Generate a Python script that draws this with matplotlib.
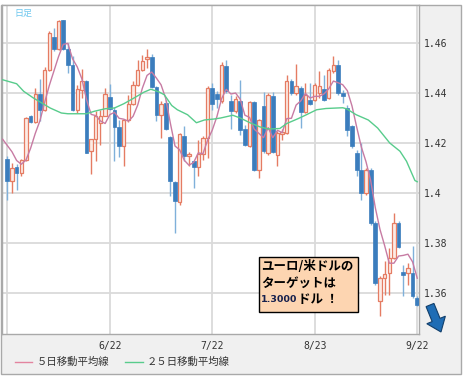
import numpy as np
import pandas as pd
import matplotlib
matplotlib.use('Agg')
import matplotlib.pyplot as plt
from matplotlib.patches import Rectangle, FancyArrow

# EUR/USD daily candles, 5/23 .. 9/22 (one entry per weekday)
opens = [1.4137, 1.4049, 1.4103, 1.4080, 1.4133, 1.4307, 1.4284, 1.4396, 1.4333, 1.4493,
         1.4624, 1.4576, 1.4691, 1.4576, 1.4513, 1.4333, 1.4413, 1.4447, 1.4167, 1.4216,
         1.4280, 1.4309, 1.4383, 1.4333, 1.4264, 1.4189, 1.4291, 1.4357, 1.4433, 1.4491,
         1.4536, 1.4544, 1.4424, 1.4313, 1.4360, 1.4224, 1.4043, 1.3963, 1.4229, 1.4147,
         1.4127, 1.4104, 1.4157, 1.4220, 1.4420, 1.4397, 1.4367, 1.4509, 1.4367, 1.4327,
         1.4367, 1.4256, 1.4187, 1.4363, 1.4091, 1.4349, 1.4160, 1.4389, 1.4153, 1.4236,
         1.4240, 1.4447, 1.4400, 1.4420, 1.4323, 1.4373, 1.4373, 1.4400, 1.4416, 1.4380,
         1.4487, 1.4513, 1.4400, 1.4340, 1.4267, 1.4160, 1.4093, 1.4000, 1.4093, 1.3880,
         1.3567, 1.3660, 1.3680, 1.3740, 1.3880, 1.3684, 1.3680, 1.3680, 1.3580]
highs = [1.4147, 1.4120, 1.4116, 1.4136, 1.4304, 1.4313, 1.4420, 1.4456, 1.4504, 1.4647,
         1.4660, 1.4693, 1.4693, 1.4600, 1.4547, 1.4433, 1.4496, 1.4453, 1.4216, 1.4327,
         1.4333, 1.4420, 1.4437, 1.4344, 1.4293, 1.4293, 1.4393, 1.4447, 1.4531, 1.4553,
         1.4576, 1.4557, 1.4427, 1.4367, 1.4371, 1.4227, 1.4047, 1.4240, 1.4269, 1.4163,
         1.4130, 1.4213, 1.4227, 1.4427, 1.4440, 1.4407, 1.4523, 1.4531, 1.4393, 1.4390,
         1.4451, 1.4273, 1.4367, 1.4367, 1.4296, 1.4403, 1.4400, 1.4403, 1.4247, 1.4256,
         1.4473, 1.4456, 1.4517, 1.4427, 1.4440, 1.4440, 1.4440, 1.4487, 1.4473, 1.4500,
         1.4547, 1.4533, 1.4413, 1.4353, 1.4273, 1.4173, 1.4200, 1.4100, 1.4100, 1.3887,
         1.3667, 1.3727, 1.3780, 1.3920, 1.3887, 1.3713, 1.3720, 1.3787, 1.3587]
lows = [1.3971, 1.4000, 1.4013, 1.4067, 1.4127, 1.4280, 1.4280, 1.4287, 1.4327, 1.4487,
        1.4567, 1.4571, 1.4573, 1.4480, 1.4327, 1.4320, 1.4380, 1.4160, 1.4076, 1.4127,
        1.4193, 1.4307, 1.4333, 1.4127, 1.4143, 1.4107, 1.4283, 1.4353, 1.4427, 1.4487,
        1.4500, 1.4420, 1.4287, 1.4220, 1.4253, 1.3987, 1.3840, 1.3953, 1.4127, 1.4107,
        1.4020, 1.4069, 1.4133, 1.4140, 1.4333, 1.4340, 1.4360, 1.4400, 1.4256, 1.4320,
        1.4233, 1.4187, 1.4184, 1.4090, 1.4060, 1.4160, 1.4153, 1.4160, 1.4107, 1.4213,
        1.4236, 1.4393, 1.4393, 1.4260, 1.4321, 1.4353, 1.4370, 1.4380, 1.4367, 1.4376,
        1.4480, 1.4393, 1.4360, 1.4227, 1.4180, 1.4067, 1.3973, 1.3993, 1.3873, 1.3633,
        1.3507, 1.3593, 1.3593, 1.3737, 1.3780, 1.3587, 1.3633, 1.3580, 1.3547]
closes = [1.4047, 1.4100, 1.4080, 1.4131, 1.4300, 1.4284, 1.4396, 1.4333, 1.4493, 1.4640,
          1.4576, 1.4687, 1.4576, 1.4513, 1.4333, 1.4416, 1.4447, 1.4160, 1.4216, 1.4309,
          1.4309, 1.4396, 1.4336, 1.4264, 1.4189, 1.4291, 1.4357, 1.4433, 1.4491, 1.4527,
          1.4544, 1.4424, 1.4313, 1.4357, 1.4256, 1.4047, 1.3967, 1.4237, 1.4147, 1.4157,
          1.4104, 1.4157, 1.4220, 1.4420, 1.4357, 1.4376, 1.4513, 1.4407, 1.4327, 1.4376,
          1.4253, 1.4193, 1.4363, 1.4093, 1.4291, 1.4167, 1.4393, 1.4163, 1.4240, 1.4245,
          1.4447, 1.4400, 1.4427, 1.4323, 1.4393, 1.4357, 1.4433, 1.4427, 1.4373, 1.4493,
          1.4513, 1.4400, 1.4387, 1.4253, 1.4187, 1.4093, 1.4000, 1.4093, 1.3880, 1.3640,
          1.3660, 1.3676, 1.3740, 1.3880, 1.3783, 1.3673, 1.3700, 1.3587, 1.3553]

# 5-day MA before enough candles are on the chart (days -1..3)
ma5_head = [1.4215, 1.4190, 1.4165, 1.4130, 1.4115]

# 25-day MA (day position, value)
ma25_x = [-1.2, 2, 3.5, 5.6, 7.4, 9.2, 11.6, 13, 17, 18.7, 21, 23, 25, 27.2, 29.3, 30.8,
          32.5, 33.7, 35.3, 36.5, 38.7, 40.6, 42.3, 44.4, 45.8, 48.4, 50, 52.2, 54.3,
          56.1, 58.5, 60, 62.5, 64.2, 66.4, 68.4, 72, 72.8, 74.9, 77.5, 79.5, 82.1, 84.3,
          85.7, 87.5, 88]
ma25 = [1.4454, 1.4437, 1.4407, 1.4380, 1.4360, 1.4340, 1.4320, 1.4317, 1.4317, 1.4327,
        1.4337, 1.4340, 1.4357, 1.4380, 1.4403, 1.4415, 1.4405, 1.4393, 1.4350, 1.4333,
        1.4313, 1.4281, 1.4292, 1.4296, 1.4300, 1.4311, 1.4300, 1.4280, 1.4264, 1.4256,
        1.4258, 1.4278, 1.4298, 1.4313, 1.4333, 1.4338, 1.4341, 1.4337, 1.4313, 1.4292,
        1.4260, 1.4200, 1.4167, 1.4127, 1.4050, 1.4045]

month_pos = [0, 22, 44, 66, 88]
month_labels = ['', '6/22', '7/22', '8/23', '9/22']
price_ticks = [1.36, 1.38, 1.40, 1.42, 1.44, 1.46]
price_labels = ['1.36', '1.38', '1.4', '1.42', '1.44', '1.46']

UP_EDGE = '#e57c63'
UP_FACE = '#fdebe5'
DOWN_BODY = '#3b7dbd'
DOWN_WICK = '#7fb0da'
MA5_COLOR = '#c77ba3'
MA25_COLOR = '#58cc8c'
JP = ['Noto Sans CJK JP', 'DejaVu Sans']
MONO = 'DejaVu Sans Mono'

W, H = 464, 377
fig = plt.figure(figsize=(W / 100, H / 100), dpi=100, facecolor='white')

def fx(px):
    return px / W

def fy(py):
    return 1 - py / H

# gray frame behind everything
fig.patches.append(Rectangle((fx(1), fy(374)), fx(460), 369 / H, transform=fig.transFigure,
                             facecolor='#f0f0f0', edgecolor='#a9a9a9', lw=1, zorder=-5))

ax = fig.add_axes([fx(2), fy(334), fx(417), 329 / H], zorder=1)
ax.set_facecolor('white')
ax.set_xlim(-1.14, 88.38)
ax.set_ylim(1.3436, 1.4752)

o = np.array(opens)
h = np.array(highs)
l = np.array(lows)
c = np.array(closes)
idx = np.arange(len(o))
up = c >= o

ax.vlines(idx[up], l[up], h[up], color=UP_EDGE, lw=1, zorder=2)
ax.vlines(idx[~up], l[~up], h[~up], color=DOWN_WICK, lw=1, zorder=2)
body_lo = np.minimum(o, c)
body_h = np.maximum(np.abs(c - o), 0.0002)
ax.bar(idx[up], body_h[up], bottom=body_lo[up], width=0.72, facecolor=UP_FACE,
       edgecolor=UP_EDGE, lw=0.9, zorder=3)
ax.bar(idx[~up], body_h[~up], bottom=body_lo[~up], width=0.8, facecolor=DOWN_BODY,
       edgecolor=DOWN_BODY, lw=0.5, zorder=3)

ma5 = pd.Series(closes).rolling(5).mean().to_numpy()[4:]
ma5_all = np.concatenate([ma5_head, ma5])
ax.plot(np.arange(-1, len(closes)), ma5_all, color=MA5_COLOR, lw=1, zorder=4)
ax.plot(ma25_x, ma25, color=MA25_COLOR, lw=1, zorder=4)

ax.set_xticks(month_pos)
ax.set_xticklabels(month_labels, family=MONO, fontsize=7, color='#333333')
ax.set_yticks(price_ticks)
ax.set_yticklabels(price_labels, family=MONO, fontsize=7, color='#333333')
ax.yaxis.tick_right()
ax.tick_params(axis='both', length=0)
ax.tick_params(axis='x', pad=5)
ax.tick_params(axis='y', pad=3.5)
ax.grid(True, color='#dadada', lw=1.3, zorder=0)
ax.set_axisbelow(True)
for s in ax.spines.values():
    s.set_color('#a9a9a9')
    s.set_linewidth(1)

ax.text(fx(14), fy(13), '日足', transform=fig.transFigure, family=JP, fontsize=6.5,
        color='#6cc6ee', va='center', ha='left', zorder=5)

# legend row
fig.lines.append(plt.Line2D([fx(15), fx(32)], [fy(362), fy(362)], transform=fig.transFigure,
                            color='#e3849f', lw=1))
fig.text(fx(37), fy(362), '５日移動平均線', family=JP, fontsize=7.5, color='#333333',
         va='center', ha='left')
fig.lines.append(plt.Line2D([fx(125), fx(143)], [fy(362), fy(362)], transform=fig.transFigure,
                            color=MA25_COLOR, lw=1))
fig.text(fx(147), fy(362), '２５日移動平均線', family=JP, fontsize=7.5, color='#333333',
         va='center', ha='left')

# note box
fig.patches.append(Rectangle((fx(259), fy(312)), fx(99), 55 / H, transform=fig.transFigure,
                             facecolor='#fdd5b1', edgecolor='black', lw=1, zorder=6))
fig.text(fx(261), fy(266), 'ユーロ/米ドルの', family=JP, fontsize=9, weight='bold',
         color='black', va='center', ha='left', zorder=7)
fig.text(fx(261), fy(283), 'ターゲットは', family=JP, fontsize=9, weight='bold',
         color='black', va='center', ha='left', zorder=7)
fig.text(fx(261), fy(300), '1.3000', family='DejaVu Sans', fontsize=6.8, weight='bold',
         color='#16204d', va='center', ha='left', zorder=7)
fig.text(fx(298), fy(300), 'ドル ！', family=JP, fontsize=9, weight='bold',
         color='black', va='center', ha='left', zorder=7)

# blue arrow
fig.patches.append(FancyArrow(4.30, 0.72, 0.11, -0.27, width=0.085, head_width=0.2,
                              head_length=0.13, length_includes_head=True,
                              transform=fig.dpi_scale_trans, facecolor='#1f6db5',
                              edgecolor='#123f6b', lw=0.8, zorder=6))

plt.savefig('out.png', dpi=100, facecolor=fig.get_facecolor())
